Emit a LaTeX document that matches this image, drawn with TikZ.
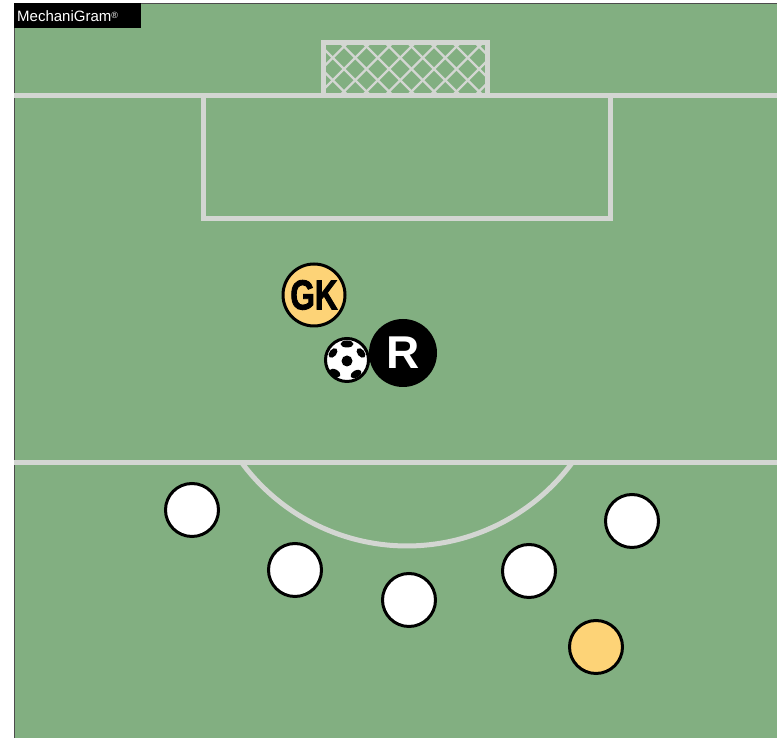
\documentclass[tikz,border=0pt]{standalone}
\usepackage{fontspec}
\setmainfont{Liberation Sans}
\newfontfamily\narrowbold[FakeStretch=0.75, FakeBold=2]{Liberation Sans Bold}
\newfontfamily\plainbold{Liberation Sans Bold}
\definecolor{campo}{HTML}{82AF81}
\definecolor{raya}{HTML}{D3D6D2}
\definecolor{amarillo}{HTML}{FDD377}
\begin{document}
\begin{tikzpicture}[x=1pt, y=1pt,
    raya/.style={draw=raya, line width=5pt},
    red/.style={draw=raya, line width=2.2pt},
    jugador/.style={circle, draw=black, fill=white, line width=3pt, minimum size=53pt, inner sep=0pt},
    mancha/.style={fill=black, draw=none}]
    \useasboundingbox (0, 0) rectangle (777, 738);
    % campo
    \fill[white] (0, 0) rectangle (777, 738);
    \fill[campo] (14, 0) rectangle (777, 735);
    \draw[black!70, line width=0.8pt] (14, 0) -- (14, 735) -- (777, 735);
    % porteria y red
    \begin{scope}
        \clip (322, 643) rectangle (487, 695);
        \foreach \i in {-3,...,9} {
            \draw[red] (318+\i*22.5, 643) -- ++(52, 52);
            \draw[red] (318+\i*22.5, 695) -- ++(52, -52);
        }
    \end{scope}
    \draw[raya] (323, 642) -- (323, 695) -- (487, 695) -- (487, 642);
    % lineas
    \draw[raya] (14, 642) -- (777, 642);
    \draw[raya] (203, 642) -- (203, 519) -- (610, 519) -- (610, 642);
    \draw[raya] (14, 275) -- (777, 275);
    \draw[raya] (242, 275) arc[start angle=216.6, end angle=323.4, radius=205.5];
    % marca
    \node[fill=black, text=white, font=\fontsize{15}{15}\selectfont, anchor=north west, inner sep=0pt, inner xsep=3pt, align=left, text width=121pt, minimum height=25pt] (marca) at (14, 735) {MechaniGram\raisebox{3pt}{\fontsize{9}{9}\selectfont ®}};
    % jugadores
    \node[jugador] (j1) at (192, 228) {};
    \node[jugador] (j2) at (295, 168) {};
    \node[jugador] (j3) at (409, 138) {};
    \node[jugador] (j4) at (529, 167) {};
    \node[jugador] (j5) at (632, 217) {};
    \node[jugador, fill=amarillo] (j6) at (596, 91) {};
    \node[jugador, fill=amarillo, minimum size=62pt, font=\narrowbold\fontsize{42}{42}\selectfont] (gk) at (314, 443) {GK};
    \node[jugador, fill=black, text=white, minimum size=65pt, font=\plainbold\fontsize{46}{46}\selectfont] (r) at (403, 385) {R};
    % balon
    \node[jugador, minimum size=43pt] (balon) at (347, 378) {};
    \fill[mancha] (347, 377) circle[radius=5.5];
    \fill[mancha] (347, 394) ellipse[x radius=6.5, y radius=3.5];
    \fill[mancha, rotate around={50:(333, 385)}] (333, 385) ellipse[x radius=5.5, y radius=3.5];
    \fill[mancha, rotate around={-50:(361, 385)}] (361, 385) ellipse[x radius=5.5, y radius=3.5];
    \fill[mancha, rotate around={-30:(335, 365)}] (335, 365) ellipse[x radius=6, y radius=3.5];
    \fill[mancha, rotate around={30:(356, 364)}] (356, 364) ellipse[x radius=6, y radius=3.5];
\end{tikzpicture}
\end{document}
